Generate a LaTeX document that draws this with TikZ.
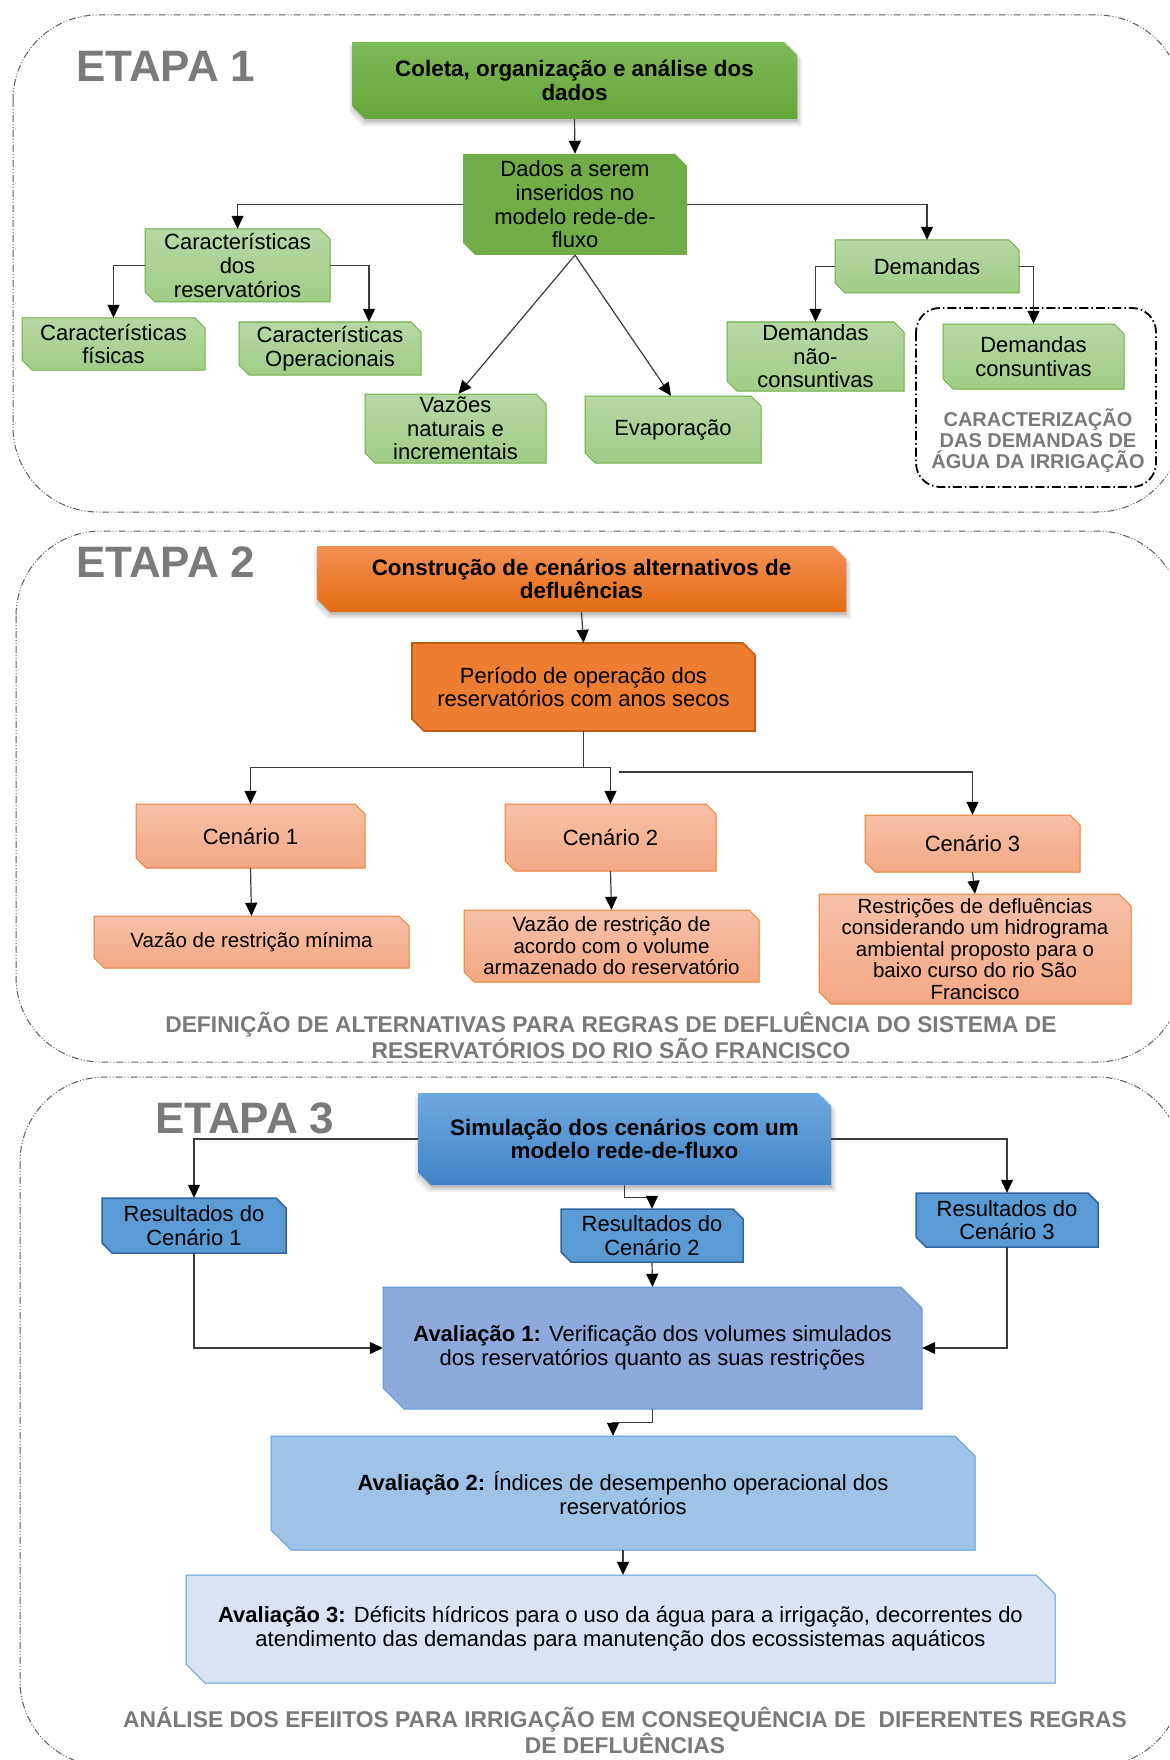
\documentclass[tikz,border=0pt]{standalone}
\usepackage{fontspec}
\setmainfont{Liberation Sans}
\usetikzlibrary{arrows.meta}

% palette
\definecolor{grTop}{RGB}{126,185,90}
\definecolor{grBot}{RGB}{101,166,56}
\definecolor{grMid}{RGB}{112,173,71}
\definecolor{grLtTop}{RGB}{183,216,164}
\definecolor{grLtBot}{RGB}{160,204,133}
\definecolor{orTop}{RGB}{243,145,85}
\definecolor{orBot}{RGB}{228,107,18}
\definecolor{orMid}{RGB}{237,125,49}
\definecolor{orEdge}{RGB}{197,90,17}
\definecolor{orLtTop}{RGB}{247,193,168}
\definecolor{orLtBot}{RGB}{244,168,132}
\definecolor{blTop}{RGB}{110,168,222}
\definecolor{blBot}{RGB}{64,132,201}
\definecolor{blMid}{RGB}{91,155,213}
\definecolor{blEdge}{RGB}{49,102,160}
\definecolor{avOne}{RGB}{142,169,219}
\definecolor{avTwo}{RGB}{157,195,230}
\definecolor{avThree}{RGB}{218,227,243}
\definecolor{capgray}{RGB}{122,122,122}
\definecolor{framegray}{RGB}{95,95,95}
\definecolor{linegray}{RGB}{60,60,60}

\tikzset{
  txt/.style={inner sep=0pt, align=center, text=black,
    font=\fontsize{22}{23.6}\selectfont},
  smalltxt/.style={txt, font=\fontsize{20.5}{21.5}\selectfont},
  boldtxt/.style={txt, font=\bfseries\fontsize{22.4}{23.6}\selectfont},
  greentitle/.style={top color=grTop, bottom color=grBot},
  greenmid/.style={fill=grMid},
  greenlight/.style={top color=grLtTop, bottom color=grLtBot, draw=grMid, line width=1pt},
  orangetitle/.style={top color=orTop, bottom color=orBot},
  orangemid/.style={fill=orMid, draw=orEdge, line width=1.6pt},
  orangelight/.style={top color=orLtTop, bottom color=orLtBot, draw=orMid, line width=1pt},
  bluetitle/.style={top color=blTop, bottom color=blBot},
  bluemid/.style={fill=blMid, draw=blEdge, line width=1.5pt},
  evalone/.style={fill=avOne, draw=blMid, line width=1pt},
  evaltwo/.style={fill=avTwo, draw=blMid, line width=1pt},
  evalthree/.style={fill=avThree, draw=blMid, line width=1pt},
  arr/.style={draw=linegray, line width=1.2pt,
    -{Triangle[length=13pt,width=12pt,color=black]}},
  conn/.style={draw=linegray, line width=1.2pt},
  stageframe/.style={draw=framegray, line width=1pt, rounded corners=85pt,
    dash pattern=on 7pt off 2pt on 1pt off 2pt on 1pt off 2pt},
  etapa/.style={anchor=base west, inner sep=0pt, text=capgray,
    font=\bfseries\fontsize{44}{44}\selectfont},
  caption/.style={inner sep=0pt, align=center, text=capgray,
    font=\bfseries\fontsize{22.8}{23.5}\selectfont},
}

% box with the top-right and bottom-left corners cut off;
% #1 name, #2 left, #3 top, #4 right, #5 bottom, #6 cut, #7 fill style, #8 text style, #9 text
\newcommand{\snipnode}[9]{%
  \path[#7] (#2,#3) -- ({#4-#6},#3) -- (#4,{#3+#6}) -- (#4,#5)
    -- ({#2+#6},#5) -- (#2,{#5-#6}) -- cycle;
  \node[#8, minimum width={(#4)-(#2)}, minimum height={(#5)-(#3)}]
    (#1) at ({(#2+#4)/2},{(#3+#5)/2}) {#9};
}

% soft shadow under the stage title boxes; #1 left, #2 top, #3 right, #4 bottom, #5 cut
\newcommand{\snipshadow}[5]{%
  \foreach \s/\o in {7/0.06,5/0.08,3/0.12} {
    \path[fill=black, opacity=\o]
      ({#1-\s+4},{#2+4}) -- ({#3-#5+\s},{#2+4}) -- ({#3+\s-2},{#2+#5+4})
      -- ({#3+\s-2},{#4+\s}) -- ({#1+#5-\s+4},{#4+\s}) -- ({#1-\s+4},{#4-#5+\s}) -- cycle;
  }%
}

\begin{document}
\begin{tikzpicture}[x=1pt, y=-1pt]
\useasboundingbox (0,0) rectangle (1169,1760);
\clip (0,0) rectangle (1169,1760);
\fill[white] (0,0) rectangle (1169,1760);

% ---------------- stage frames ----------------
\draw[stageframe] (13,15) rectangle (1182,512);
\draw[stageframe] (16,531) rectangle (1182,1062);
\draw[stageframe] (20,1077) rectangle (1182,1766);

\node[etapa] (et1) at (76,82) {ETAPA 1};
\node[etapa] (et2) at (76,577) {ETAPA 2};
\node[etapa] (et3) at (155,1133) {ETAPA 3};

% ---------------- ETAPA 1 ----------------
\snipshadow{352}{42}{797}{119}{13}
\snipnode{coleta}{352}{42}{797}{119}{13}{greentitle}{boldtxt}{Coleta, organização e análise dos\\dados}
\snipnode{dados}{463}{154}{687}{255}{12}{greenmid}{txt}{Dados a serem\\inseridos no\\modelo rede-de-\\fluxo}
\snipnode{carres}{145}{229}{330}{302}{10}{greenlight}{txt}{Características\\dos\\reservatórios}
\snipnode{carfis}{22}{318}{205}{370}{10}{greenlight}{txt}{Características\\físicas}
\snipnode{carop}{239}{322}{421}{375}{10}{greenlight}{txt}{Características\\Operacionais}
\snipnode{vazoes}{365}{394}{546}{463}{10}{greenlight}{txt}{Vazões\\naturais e\\incrementais}
\snipnode{evap}{585}{396}{761}{463}{10}{greenlight}{txt}{Evaporação}
\snipnode{dem}{835}{240}{1019}{293}{10}{greenlight}{txt}{Demandas}
\snipnode{demnc}{727}{322}{904}{391}{10}{greenlight}{txt}{Demandas\\não-\\consuntivas}
\snipnode{demc}{943}{324}{1124}{389}{10}{greenlight}{txt}{Demandas\\consuntivas}

% irrigation demand group
\draw[black, line width=1.8pt, rounded corners=24pt,
  dash pattern=on 9pt off 3pt on 1.5pt off 3pt] (916,308) rectangle (1156,487);
\node[caption, font=\bfseries\fontsize{20}{21}\selectfont] (irrig) at (1038,441)
  {CARACTERIZAÇÃO\\DAS DEMANDAS DE\\ÁGUA DA IRRIGAÇÃO};

\draw[arr] (coleta.south) -- (dados.north);
\draw[arr] (dados.west) -| (carres.north);
\draw[arr] (dados.east) -| (dem.north);
\draw[arr] (carres.west) -| (carfis.north);
\draw[arr] (carres.east) -| ([xshift=39pt]carop.north);
\draw[arr] (dados.south) -- ([xshift=3pt]vazoes.north);
\draw[arr] (dados.south) -- ([xshift=-2pt]evap.north);
\draw[arr] (dem.west) -| (demnc.north);
\draw[arr] (dem.east) -| (demc.north);

% ---------------- ETAPA 2 ----------------
\snipshadow{317}{546}{846}{612}{13}
\snipnode{constr}{317}{546}{846}{612}{13}{orangetitle}{boldtxt}{Construção de cenários alternativos de\\defluências}
\snipnode{periodo}{412}{643}{755}{731}{12}{orangemid}{txt}{Período de operação dos\\reservatórios com anos secos}
\snipnode{cen1}{136}{804}{365}{868}{10}{orangelight}{txt}{Cenário 1}
\snipnode{cen2}{505}{804}{716}{871}{10}{orangelight}{txt}{Cenário 2}
\snipnode{cen3}{865}{815}{1080}{872}{10}{orangelight}{txt}{Cenário 3}
\snipnode{vmin}{94}{916}{409}{968}{10}{orangelight}{smalltxt}{Vazão de restrição mínima}
\snipnode{vvol}{464}{910}{759}{982}{10}{orangelight}{smalltxt}{Vazão de restrição de\\acordo com o volume\\armazenado do reservatório}
\snipnode{vhid}{819}{894}{1131}{1004}{12}{orangelight}{smalltxt}{Restrições de defluências\\considerando um hidrograma\\ambiental proposto para o\\baixo curso do rio São\\Francisco}

\draw[arr] (constr.south) -- (periodo.north);
\coordinate (split) at ([yshift=-36pt]periodo.south);
\coordinate (branch) at (619,772);
\draw[conn] (periodo.south) -- (split);
\draw[arr] (split) -| (cen1.north);
\draw[arr] (split) -| (cen2.north);
\draw[arr] (branch) -| (cen3.north);
\draw[arr] (cen1.south) -- (vmin.north);
\draw[arr] (cen2.south) -- (vvol.north);
\draw[arr] (cen3.south) -- (vhid.north);

\node[caption] (cap2) at (611,1035)
  {DEFINIÇÃO DE ALTERNATIVAS PARA REGRAS DE DEFLUÊNCIA DO SISTEMA DE\\RESERVATÓRIOS DO RIO SÃO FRANCISCO};

% ---------------- ETAPA 3 ----------------
\snipshadow{418}{1093}{831}{1185}{13}
\snipnode{simul}{418}{1093}{831}{1185}{13}{bluetitle}{boldtxt}{Simulação dos cenários com um\\modelo rede-de-fluxo}
\snipnode{res1}{102}{1198}{286}{1253}{10}{bluemid}{txt}{Resultados do\\Cenário 1}
\snipnode{res2}{561}{1209}{743}{1262}{10}{bluemid}{txt}{Resultados do\\Cenário 2}
\snipnode{res3}{916}{1193}{1098}{1247}{10}{bluemid}{txt}{Resultados do\\Cenário 3}
\snipnode{aval1}{383}{1287}{922}{1409}{21}{evalone}{txt}{\textbf{Avaliação 1:} Verificação dos volumes simulados\\dos reservatórios quanto as suas restrições}
\snipnode{aval2}{271}{1436}{975}{1550}{20}{evaltwo}{txt}{\textbf{Avaliação 2:} Índices de desempenho operacional dos\\reservatórios}
\snipnode{aval3}{186}{1575}{1055}{1683}{19}{evalthree}{txt}{\textbf{Avaliação 3:} Déficits hídricos para o uso da água para a irrigação, decorrentes do\\atendimento das demandas para manutenção dos ecossistemas aquáticos}

\draw[arr] (simul.west) -| (res1.north);
\draw[arr] (simul.east) -| (res3.north);
\draw[arr] (simul.south) -- ++(0,12.6) -| (res2.north);
\draw[arr] (res2.south) -- (aval1.north);
\draw[arr] (res1.south) |- (aval1.west);
\draw[arr] (res3.south) |- (aval1.east);
\draw[arr] (aval1.south) -- ++(0,13) -| ([xshift=-10pt]aval2.north);
\draw[arr] (aval2.south) -- (aval2.south |- aval3.north);

\node[caption] (cap3) at (625,1730)
  {ANÁLISE DOS EFEIITOS PARA IRRIGAÇÃO EM CONSEQUÊNCIA DE \ DIFERENTES REGRAS\\DE DEFLUÊNCIAS};
\end{tikzpicture}
\end{document}
